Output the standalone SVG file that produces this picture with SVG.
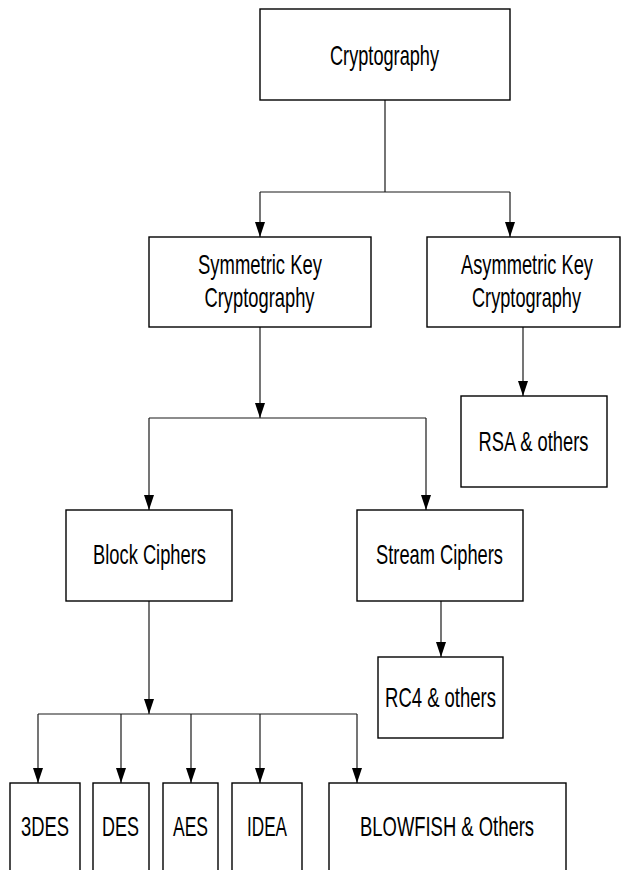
<svg xmlns="http://www.w3.org/2000/svg" width="625" height="870" viewBox="0 0 625 870">
<style>
.box{fill:#fff;stroke:#000;stroke-width:1.4}
.t{font-family:"Liberation Sans",Arial,sans-serif;font-size:28px;fill:#000;text-anchor:middle}
.c{fill:none;stroke:#1a1a1a;stroke-width:1.2}
</style>
<defs>
<marker id="ah" viewBox="0 0 15 10" refX="15" refY="5" markerWidth="15" markerHeight="10" markerUnits="userSpaceOnUse" orient="auto">
<path d="M0,0 L15,5 L0,10 z" fill="#000"/>
</marker>
</defs>
<rect width="625" height="870" fill="#fff"/>
<g id="connectors">
<path class="c" d="M385,100 V192 M260,192 H510"/>
<path class="c" d="M260,192 V237" marker-end="url(#ah)"/>
<path class="c" d="M510,192 V237" marker-end="url(#ah)"/>
<path class="c" d="M260,327 V418" marker-end="url(#ah)"/>
<path class="c" d="M149,418 H426"/>
<path class="c" d="M149,418 V510" marker-end="url(#ah)"/>
<path class="c" d="M426,418 V510" marker-end="url(#ah)"/>
<path class="c" d="M523,327 V396" marker-end="url(#ah)"/>
<path class="c" d="M441,601 V657" marker-end="url(#ah)"/>
<path class="c" d="M149,601 V714" marker-end="url(#ah)"/>
<path class="c" d="M38,714 H357"/>
<path class="c" d="M38,714 V783" marker-end="url(#ah)"/>
<path class="c" d="M121,714 V783" marker-end="url(#ah)"/>
<path class="c" d="M191,714 V783" marker-end="url(#ah)"/>
<path class="c" d="M260,714 V783" marker-end="url(#ah)"/>
<path class="c" d="M357,714 V783" marker-end="url(#ah)"/>
</g>
<g id="cryptography">
<rect class="box" x="260" y="9" width="250" height="91"/>
<text class="t" transform="translate(384.5,65) scale(0.649,1)">Cryptography</text>
</g>
<g id="symmetric">
<rect class="box" x="149" y="237" width="222" height="90"/>
<text class="t" transform="translate(260,274) scale(0.659,1)">Symmetric Key</text>
<text class="t" transform="translate(259.5,307) scale(0.655,1)">Cryptography</text>
</g>
<g id="asymmetric">
<rect class="box" x="427" y="237" width="193" height="90"/>
<text class="t" transform="translate(527,274) scale(0.653,1)">Asymmetric Key</text>
<text class="t" transform="translate(526.5,307) scale(0.649,1)">Cryptography</text>
</g>
<g id="rsa">
<rect class="box" x="461" y="396" width="146" height="91"/>
<text class="t" transform="translate(533.5,451) scale(0.654,1)">RSA &amp; others</text>
</g>
<g id="block">
<rect class="box" x="66" y="510" width="166" height="91"/>
<text class="t" transform="translate(149.5,564) scale(0.654,1)">Block Ciphers</text>
</g>
<g id="stream">
<rect class="box" x="357" y="510" width="166" height="91"/>
<text class="t" transform="translate(439.5,564) scale(0.653,1)">Stream Ciphers</text>
</g>
<g id="rc4">
<rect class="box" x="378" y="657" width="125" height="81"/>
<text class="t" transform="translate(440.5,707) scale(0.66,1)">RC4 &amp; others</text>
</g>
<g id="3des">
<rect class="box" x="10" y="783" width="70" height="100"/>
<text class="t" transform="translate(45,836) scale(0.657,1)">3DES</text>
</g>
<g id="des">
<rect class="box" x="93" y="783" width="56" height="100"/>
<text class="t" transform="translate(120.5,836) scale(0.642,1)">DES</text>
</g>
<g id="aes">
<rect class="box" x="163" y="783" width="55" height="100"/>
<text class="t" transform="translate(190.5,836) scale(0.625,1)">AES</text>
</g>
<g id="idea">
<rect class="box" x="232" y="783" width="70" height="100"/>
<text class="t" transform="translate(267,836) scale(0.612,1)">IDEA</text>
</g>
<g id="blowfish">
<rect class="box" x="329" y="783" width="237" height="100"/>
<text class="t" transform="translate(447,836) scale(0.658,1)">BLOWFISH &amp; Others</text>
</g>
</svg>
